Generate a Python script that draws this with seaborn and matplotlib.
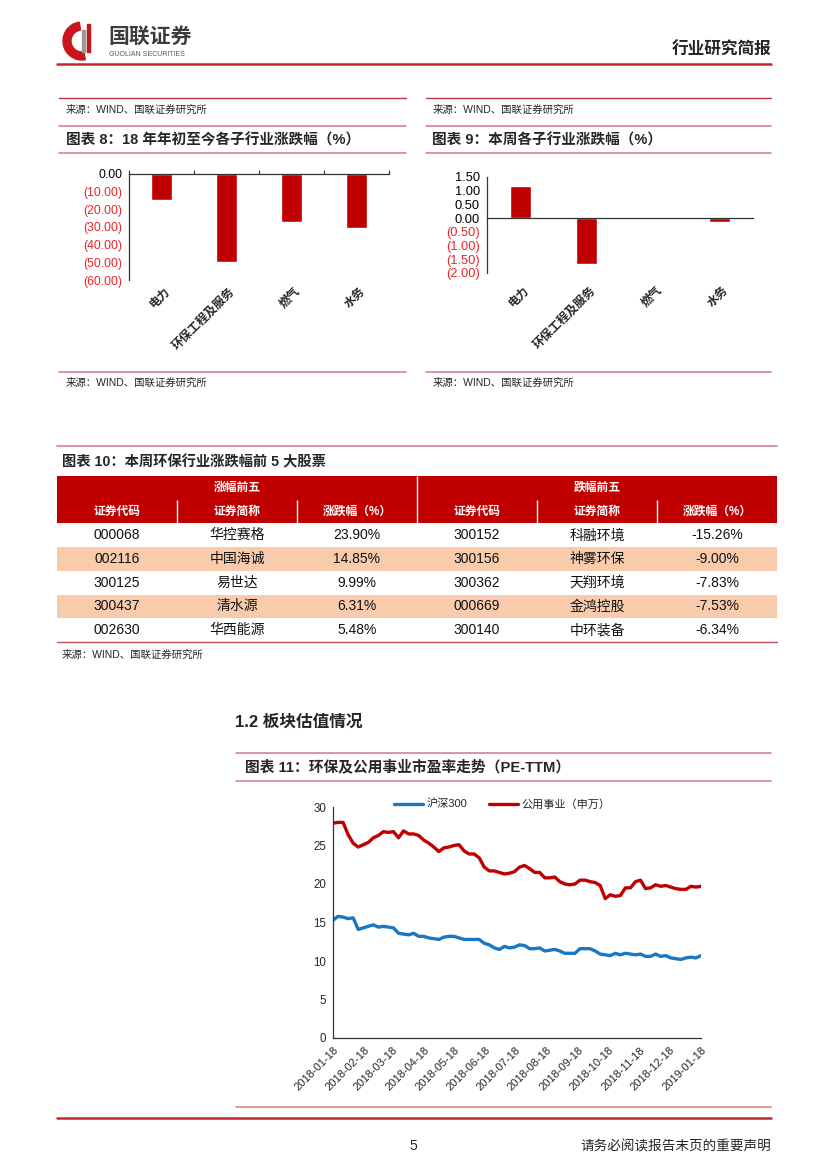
import numpy as np
import pandas as pd
import matplotlib.pyplot as plt
import matplotlib.dates as mdates
from matplotlib.lines import Line2D
from matplotlib.patches import Rectangle, Wedge
from matplotlib.transforms import blended_transform_factory
import seaborn as sns

# ---- data ----
sectors = ['电力', '环保工程及服务', '燃气', '水务']
ytd_change = [-14.7, -50.0, -27.2, -30.6]      # 图表8
week_change = [1.16, -1.66, -0.01, -0.14]      # 图表9

gain_codes = ['000068', '002116', '300125', '300437', '002630']
gain_names = ['华控赛格', '中国海诚', '易世达', '清水源', '华西能源']
gain_pct = [23.90, 14.85, 9.99, 6.31, 5.48]
loss_codes = ['300152', '300156', '300362', '000669', '300140']
loss_names = ['科融环境', '神雾环保', '天翔环境', '金鸿控股', '中环装备']
loss_pct = [-15.26, -9.00, -7.83, -7.53, -6.34]

pe_dates = pd.date_range('2018-01-18', periods=74, freq='5D')
hs300_pe = [15.3, 15.8, 15.7, 15.5, 15.6, 14.1, 14.3, 14.5, 14.7, 14.4,
            14.5, 14.4, 14.3, 13.6, 13.5, 13.4, 13.6, 13.2, 13.2, 13.0,
            12.9, 12.8, 13.1, 13.2, 13.2, 13.0, 12.8, 12.8, 12.8, 12.8,
            12.3, 12.1, 11.7, 11.5, 11.9, 11.7, 11.8, 12.1, 12.0, 11.6,
            11.6, 11.7, 11.3, 11.4, 11.5, 11.3, 11.0, 11.0, 11.0, 11.6,
            11.6, 11.6, 11.3, 10.9, 10.8, 10.7, 11.0, 10.8, 11.0, 10.9,
            10.8, 10.9, 10.6, 10.6, 10.9, 10.6, 10.7, 10.4, 10.3, 10.2,
            10.4, 10.5, 10.4, 10.7]
utility_pe = [27.9, 28.0, 28.0, 26.4, 25.3, 24.8, 25.1, 25.4, 26.0, 26.3,
              26.8, 26.7, 26.8, 26.0, 26.9, 26.5, 26.5, 26.3, 25.7, 25.3,
              24.8, 24.2, 24.7, 24.8, 25.0, 25.1, 24.3, 23.9, 23.9, 23.4,
              22.2, 21.7, 21.7, 21.5, 21.3, 21.4, 21.6, 22.2, 22.4, 22.0,
              21.5, 21.5, 20.8, 20.8, 20.9, 20.3, 20.0, 19.9, 20.0, 20.5,
              20.5, 20.3, 20.2, 19.8, 18.1, 18.6, 18.4, 18.5, 19.5, 19.5,
              20.3, 20.5, 19.4, 19.5, 19.9, 19.7, 19.8, 19.6, 19.4, 19.3,
              19.3, 19.7, 19.6, 19.7]

RED = '#C00000'
PINK = '#D6848F'
NEG = '#E8262B'

sns.set_style('white')
plt.rcParams['font.family'] = ['Liberation Sans', 'Noto Sans CJK SC']
plt.rcParams['axes.unicode_minus'] = False

W, H = 827, 1169
fig = plt.figure(figsize=(W / 100, H / 100), dpi=100)

# overlay in page pixels
ov = fig.add_axes([0, 0, 1, 1])
ov.set_xlim(0, W)
ov.set_ylim(H, 0)
ov.axis('off')


def axes_px(left, top, right, bottom):
    return fig.add_axes([left / W, 1 - bottom / H, (right - left) / W, (bottom - top) / H])


def hline(y, x0, x1, color=PINK, lw=1.2):
    ov.add_line(Line2D([x0, x1], [y, y], color=color, lw=lw))


# ---- header ----
ov.add_patch(Wedge((82, 41), 19, 80, 262, width=8, color='#C8161D'))
ov.add_patch(Rectangle((82, 30), 3, 22, color='#9A9A9A'))
ov.add_patch(Rectangle((87, 24), 3, 28, color='#C8161D'))
ov.text(108, 37, '国联证券', fontsize=15, fontweight='bold', color='#3C3C3C', va='center')
ov.text(109, 54, 'GUOLIAN SECURITIES', fontsize=5, color='#555555', va='center')
ov.text(771, 50, '行业研究简报', fontsize=12, fontweight='bold', ha='right', va='center')
hline(64, 57, 771, color='#C0282D', lw=1.8)

# source lines above
hline(98, 59, 406, color='#B8343F', lw=1.0)
hline(98, 426, 771, color='#B8343F', lw=1.0)
ov.text(66, 110, '来源：WIND、国联证券研究所', fontsize=7.5, va='center')
ov.text(433, 110, '来源：WIND、国联证券研究所', fontsize=7.5, va='center')
hline(126, 59, 406)
hline(126, 426, 771)

# ---- 图表8 / 图表9 ----
ov.text(66, 140, '图表 8：18 年年初至今各子行业涨跌幅（%）', fontsize=10.5, fontweight='bold', va='center')
ov.text(432, 140, '图表 9：本周各子行业涨跌幅（%）', fontsize=10.5, fontweight='bold', va='center')
hline(153, 59, 406)
hline(153, 426, 771)


def paren(v):
    return f'({abs(v):.2f})' if v < -1e-9 else f'{v:.2f}'


def bar_chart(ax, values, ticks, lim, fs, label_y, zero_top):
    sns.barplot(x=sectors, y=values, color=RED, saturation=1, width=0.31, ax=ax)
    ax.set_xlim(-0.5, len(sectors) - 0.5)
    ax.set_ylim(*lim)
    ax.set_yticks(ticks, [paren(t) for t in ticks])
    for lbl, t in zip(ax.get_yticklabels(), ticks):
        lbl.set_color(NEG if t < -1e-9 else 'black')
        lbl.set_fontsize(fs)
    ax.set_xticks(np.arange(len(sectors) + 1) - 0.5, [''] * (len(sectors) + 1))
    ax.spines['right'].set_visible(False)
    if zero_top:
        ax.spines['bottom'].set_visible(False)
        ax.xaxis.set_ticks_position('top')
    else:
        ax.spines['top'].set_visible(False)
        ax.spines['bottom'].set_position(('data', 0))
    for s in ['left', 'top', 'bottom']:
        ax.spines[s].set_color('#333333')
        ax.spines[s].set_linewidth(0.9)
    ax.tick_params(axis='y', direction='out', length=3, width=0.8, color='#333333', pad=2)
    ax.tick_params(axis='x', direction='out', length=3, width=0.8, color='#333333')
    ax.set_xlabel('')
    ax.set_ylabel('')
    tr = blended_transform_factory(ax.transData, ax.transAxes)
    for i, name in enumerate(sectors):
        ax.text(i + 0.1, label_y, name, transform=tr, rotation=45, ha='right', va='center',
                rotation_mode='anchor', fontsize=8.5, fontweight='bold')


ax8 = axes_px(129, 174, 389, 280)
bar_chart(ax8, ytd_change, list(range(-60, 1, 10)), (-60, 0), 8.8, -0.09, True)
ax9 = axes_px(487, 177, 753, 273)
bar_chart(ax9, week_change, [-2.0, -1.5, -1.0, -0.5, 0.0, 0.5, 1.0, 1.5], (-2.0, 1.5), 9.3, -0.16, False)

hline(372, 59, 406)
hline(372, 426, 771)
ov.text(66, 383, '来源：WIND、国联证券研究所', fontsize=7.5, va='center')
ov.text(433, 383, '来源：WIND、国联证券研究所', fontsize=7.5, va='center')

# ---- 图表10 table ----
hline(446, 57, 777)
ov.text(62, 462, '图表 10：本周环保行业涨跌幅前 5 大股票', fontsize=10.3, fontweight='bold', va='center')

axt = axes_px(57, 476, 777, 642)
axt.set_xlim(0, 6)
axt.set_ylim(7, 0)
axt.axis('off')
axt.add_patch(Rectangle((0, 0), 6, 2, color=RED, lw=0))
for i in range(5):
    if i % 2 == 1:
        axt.add_patch(Rectangle((0, 2 + i), 6, 1, color='#F8CBAD', lw=0))
axt.vlines(3, 0, 2, color='white', lw=1)
axt.vlines([1, 2, 4, 5], 1, 2, color='white', lw=1)
axt.text(1.5, 0.5, '涨幅前五', color='white', fontsize=8.5, fontweight='bold', ha='center', va='center')
axt.text(4.5, 0.5, '跌幅前五', color='white', fontsize=8.5, fontweight='bold', ha='center', va='center')
col_heads = ['证券代码', '证券简称', '涨跌幅（%）'] * 2
for j, h in enumerate(col_heads):
    axt.text(j + 0.5, 1.5, h, color='white', fontsize=8.5, fontweight='bold', ha='center', va='center')
for i in range(5):
    row = [gain_codes[i], gain_names[i], f'{gain_pct[i]:.2f}%',
           loss_codes[i], loss_names[i], f'{loss_pct[i]:.2f}%']
    for j, cell in enumerate(row):
        axt.text(j + 0.5, 2.5 + i, cell, fontsize=10, ha='center', va='center', color='#111111')
hline(642, 57, 777, color='#C0505A', lw=1.0)
ov.text(62, 655, '来源：WIND、国联证券研究所', fontsize=7.5, va='center')

# ---- 1.2 / 图表11 ----
ov.text(235, 722, '1.2 板块估值情况', fontsize=12, fontweight='bold', va='center')
hline(753, 236, 771)
ov.text(245, 767, '图表 11：环保及公用事业市盈率走势（PE-TTM）', fontsize=10.6, fontweight='bold', va='center')
hline(781, 236, 771)

pe_df = pd.DataFrame({
    'date': list(pe_dates) * 2,
    'pe': hs300_pe + utility_pe,
    'series': ['沪深300'] * len(pe_dates) + ['公用事业（申万）'] * len(pe_dates),
})
ax11 = axes_px(333, 807, 701, 1038)
sns.lineplot(data=pe_df, x='date', y='pe', hue='series',
             palette={'沪深300': '#1A78C2', '公用事业（申万）': RED}, linewidth=2.4, ax=ax11)
ax11.set_xlim(pe_dates[0], pe_dates[-1])
ax11.set_ylim(0, 30)
ax11.set_yticks(range(0, 31, 5))
month_ticks = pd.date_range('2018-01-18', periods=13, freq=pd.DateOffset(months=1))
ax11.set_xticks(month_ticks)
ax11.xaxis.set_major_formatter(mdates.DateFormatter('%Y-%m-%d'))
for lbl in ax11.get_xticklabels():
    lbl.set_rotation(45)
    lbl.set_ha('right')
    lbl.set_rotation_mode('anchor')
    lbl.set_fontsize(8)
for lbl in ax11.get_yticklabels():
    lbl.set_fontsize(8.3)
ax11.spines['top'].set_visible(False)
ax11.spines['right'].set_visible(False)
for s in ['left', 'bottom']:
    ax11.spines[s].set_color('#333333')
    ax11.spines[s].set_linewidth(0.9)
ax11.tick_params(direction='out', length=3, width=0.8, color='#333333', pad=2)
ax11.set_xlabel('')
ax11.set_ylabel('')
handles, labels = ax11.get_legend_handles_labels()
ax11.legend(handles, labels, loc='lower center', bbox_to_anchor=(0.46, 0.97), ncol=2,
            frameon=False, fontsize=8, handlelength=2.6, handletextpad=0.3, columnspacing=2.0,
            borderaxespad=0)

# ---- footer ----
hline(1107, 236, 771)
hline(1118, 57, 771, color='#C0282D', lw=1.8)
ov.text(413, 1146, '5', fontsize=10, ha='center', va='center')
ov.text(771, 1146, '请务必阅读报告末页的重要声明', fontsize=9.8, ha='right', va='center')

fig.savefig('out.png', dpi=100)
